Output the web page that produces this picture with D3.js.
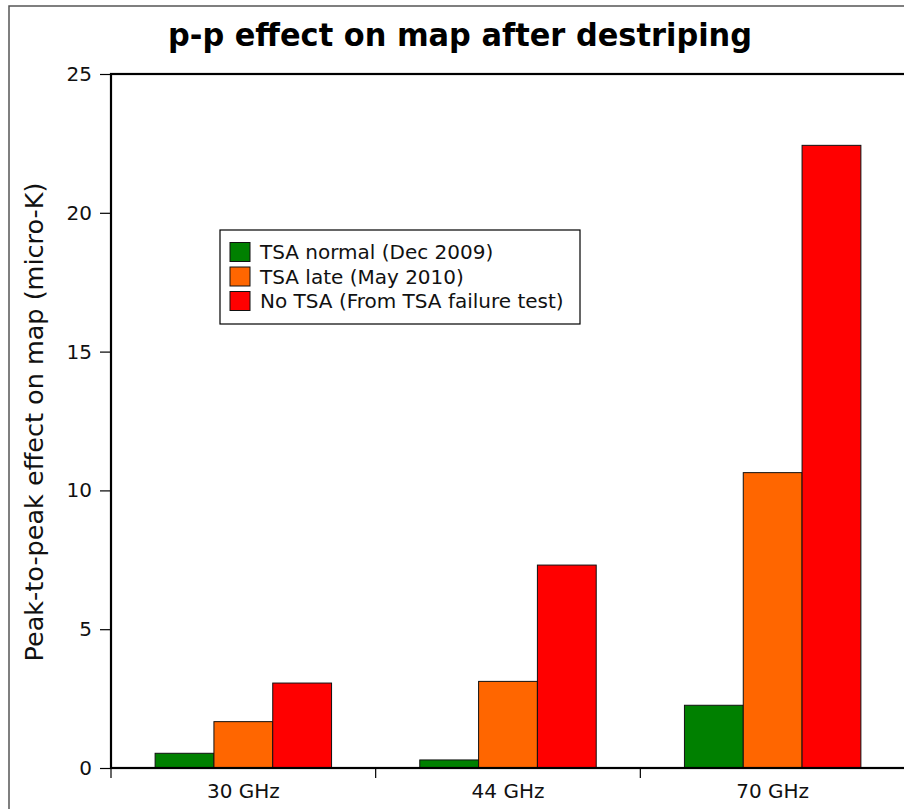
<!DOCTYPE html>
<html>
<head>
<meta charset="utf-8">
<script src="https://cdn.jsdelivr.net/npm/d3@7"></script>
<style>
  html, body { margin: 0; padding: 0; background: #fff; }
  svg { display: block; font-family: "DejaVu Sans", sans-serif; }
</style>
</head>
<body>
<svg id="chart" width="904" height="809"></svg>
<script>
const categories = ["30 GHz", "44 GHz", "70 GHz"];
const seriesNames = ["TSA normal (Dec 2009)", "TSA late (May 2010)", "No TSA (From TSA failure test)"];
const seriesColors = ["#008000", "#ff6600", "#ff0000"];
const tsaNormal = [0.53, 0.29, 2.26];
const tsaLate = [1.67, 3.12, 10.64];
const noTsa = [3.06, 7.31, 22.43];
const yTicks = [0, 5, 10, 15, 20, 25];
const titleText = "p-p effect on map after destriping";
const yLabel = "Peak-to-peak effect on map (micro-K)";

const seriesValues = [tsaNormal, tsaLate, noTsa];

const svg = d3.select("#chart");
const margin = { left: 111, top: 74, right: 905, bottom: 768 };

// outer frame
svg.append("rect")
  .attr("x", 9).attr("y", 6)
  .attr("width", 1000).attr("height", 1000)
  .attr("fill", "none").attr("stroke", "#555").attr("stroke-width", 1.5);

const x0 = d3.scaleBand().domain(categories).range([margin.left, margin.right]).paddingInner(0).paddingOuter(0);
const x1 = d3.scaleBand().domain(d3.range(seriesNames.length)).range([0, x0.bandwidth()]).paddingInner(0).paddingOuter(0.75);
const y = d3.scaleLinear().domain([0, 25]).range([margin.bottom, margin.top]);

// bars
const groups = svg.append("g").selectAll("g").data(categories).join("g")
  .attr("transform", d => `translate(${x0(d)},0)`);
groups.selectAll("rect")
  .data((d, ci) => seriesValues.map((vals, si) => ({ si, v: vals[ci] })))
  .join("rect")
  .attr("x", d => x1(d.si))
  .attr("width", x1.bandwidth())
  .attr("y", d => y(d.v))
  .attr("height", d => y(0) - y(d.v))
  .attr("fill", d => seriesColors[d.si])
  .attr("stroke", "#111").attr("stroke-width", 1);

// plot frame (right side lies just outside the picture)
svg.append("rect")
  .attr("x", margin.left).attr("y", margin.top)
  .attr("width", margin.right + 2 - margin.left).attr("height", margin.bottom - margin.top)
  .attr("fill", "none").attr("stroke", "#000").attr("stroke-width", 2.2);

// y axis
const yAxis = svg.append("g").attr("transform", `translate(${margin.left},0)`)
  .call(d3.axisLeft(y).tickValues(yTicks).tickSize(11).tickPadding(8).tickFormat(d3.format("d")));
yAxis.select(".domain").remove();
yAxis.selectAll("line").attr("stroke", "#000").attr("stroke-width", 1.2);
yAxis.selectAll("text").attr("font-size", 20).attr("font-family", "DejaVu Sans").attr("fill", "#111");

// x axis boundary ticks
const boundaries = categories.map(c => x0(c));
svg.append("g").selectAll("line").data(boundaries).join("line")
  .attr("x1", d => d).attr("x2", d => d)
  .attr("y1", margin.bottom).attr("y2", margin.bottom + 10)
  .attr("stroke", "#000").attr("stroke-width", 1.2);
svg.append("g").selectAll("text").data(categories).join("text")
  .attr("x", d => x0(d) + x0.bandwidth() / 2)
  .attr("y", 798)
  .attr("text-anchor", "middle")
  .attr("font-size", 20).attr("fill", "#111")
  .text(d => d);

// title
svg.append("text")
  .attr("x", 460).attr("y", 46)
  .attr("text-anchor", "middle")
  .attr("font-size", 32).attr("font-weight", "bold")
  .attr("textLength", 584).attr("lengthAdjust", "spacingAndGlyphs")
  .text(titleText);

// y label
svg.append("text")
  .attr("transform", `translate(43,422) rotate(-90)`)
  .attr("text-anchor", "middle")
  .attr("font-size", 25.5).attr("fill", "#111")
  .text(yLabel);

// legend
const legend = svg.append("g");
legend.append("rect")
  .attr("x", 220).attr("y", 230).attr("width", 360).attr("height", 94)
  .attr("fill", "#fff").attr("stroke", "#000").attr("stroke-width", 1.2);
const rows = legend.selectAll("g").data(seriesNames).join("g")
  .attr("transform", (d, i) => `translate(0,${242.5 + i * 24.5})`);
rows.append("rect")
  .attr("x", 230).attr("y", 0).attr("width", 20).attr("height", 19)
  .attr("fill", (d, i) => seriesColors[i]).attr("stroke", "#111").attr("stroke-width", 1);
rows.append("text")
  .attr("x", 260).attr("y", 16.5)
  .attr("font-size", 20).attr("fill", "#111")
  .text(d => d);
</script>
</body>
</html>
